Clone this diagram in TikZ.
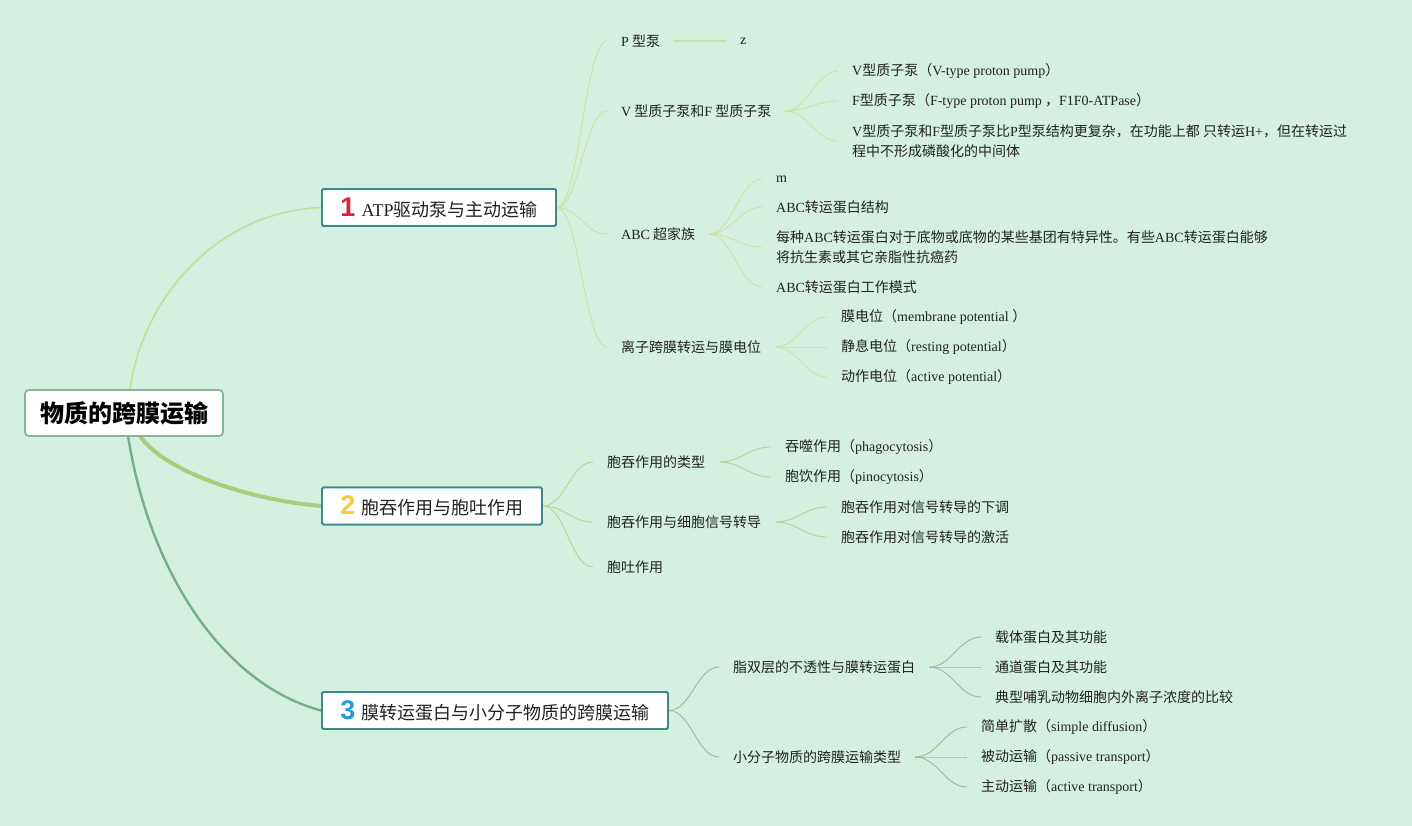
\documentclass[tikz,border=0pt]{standalone}
\usepackage{fontspec}
\setmainfont{Noto Sans CJK SC}
\newfontfamily\lat{Liberation Serif}
\newfontfamily\numfont{Liberation Sans}
\newcommand\E[1]{{\lat #1}}
\usetikzlibrary{calc}
\definecolor{bg}{HTML}{D4F0E1}
\definecolor{txt}{HTML}{222222}
\definecolor{rootborder}{HTML}{86B595}
\definecolor{boxborder}{HTML}{3C8A88}
\definecolor{cA}{HTML}{C9E4A2}
\definecolor{cArt}{HTML}{BEE29A}
\definecolor{cB}{HTML}{A9CC7E}
\definecolor{cBl}{HTML}{B8D68E}
\definecolor{cC}{HTML}{76AE88}
\definecolor{cCl}{HTML}{93BFA0}
\definecolor{numA}{HTML}{E0203A}
\definecolor{numB}{HTML}{F2CF3C}
\definecolor{numC}{HTML}{2A9BD8}
\newcommand\numA{{\numfont\bfseries\fontsize{27}{27}\selectfont\color{numA}1}}
\newcommand\numB{{\numfont\bfseries\fontsize{27}{27}\selectfont\color{numB}2}}
\newcommand\numC{{\numfont\bfseries\fontsize{27}{27}\selectfont\color{numC}3}}
\tikzset{
  rootbox/.style={draw=rootborder, line width=1.6pt, fill=white, rounded corners=4pt,
    minimum width=198pt, minimum height=46pt, inner sep=0pt, text=black,
    font=\fontsize{24}{28}\selectfont\bfseries},
  mainbox/.style={draw=boxborder, line width=1.8pt, fill=white, rounded corners=1.5pt,
    minimum height=37pt, inner sep=0pt, text=txt, font=\fontsize{18}{22}\selectfont},
  leaf/.style={anchor=west, inner xsep=14pt, inner ysep=2pt, align=left, text=txt,
    font=\fontsize{14}{20}\selectfont},
  edgeA/.style={draw=cA, line width=0.9pt},
  edgeB/.style={draw=cBl, line width=0.9pt},
  edgeC/.style={draw=cCl, line width=0.9pt},
  curve/.style={to path={.. controls ($(\tikztostart)+(22,0)$) and ($(\tikztotarget)+(-22,0)$) .. (\tikztotarget)}}
}
\begin{document}
\begin{tikzpicture}[x=1pt, y=-1pt]
\fill[bg] (0,0) rectangle (1412,826);
\useasboundingbox (0,0) rectangle (1412,826);

\coordinate (r1) at (130,390);
\coordinate (r2) at (140,436);
\coordinate (r3) at (128,436);

\node[rootbox] (root) at (124,413) {物质的跨膜运输};
\node[mainbox, minimum width=234pt] (b1) at (439,207.5) {\numA\hspace{6pt}\E{ATP}驱动泵与主动运输};
\node[mainbox, minimum width=220pt] (b2) at (432,506) {\numB\hspace{6pt}胞吞作用与胞吐作用};
\node[mainbox, minimum width=346pt] (b3) at (495,710.5) {\numC\hspace{6pt}膜转运蛋白与小分子物质的跨膜运输};

% branch 1 children
\node[leaf] (p) at (607,41) {\E{P} 型泵};
\node[leaf] (z) at (726,41) {\E{z}};
\node[leaf] (vf) at (607,111) {\E{V} 型质子泵和\E{F} 型质子泵};
\node[leaf] (abc) at (607,234) {\E{ABC} 超家族};
\node[leaf] (ion) at (607,347) {离子跨膜转运与膜电位};

\node[leaf] (vf1) at (838,71) {\E{V}型质子泵（\E{V-type proton pump}）};
\node[leaf] (vf2) at (838,101) {\E{F}型质子泵（\E{F-type proton pump} ，\E{F1F0-ATPase}）};
\node[leaf] (vf3) at (838,141) {\E{V}型质子泵和\E{F}型质子泵比\E{P}型泵结构更复杂，在功能上都 只转运\E{H+}，但在转运过\\程中不形成磷酸化的中间体};

\node[leaf] (abc1) at (762,179) {\E{m}};
\node[leaf] (abc2) at (762,207) {\E{ABC}转运蛋白结构};
\node[leaf] (abc3) at (762,247) {每种\E{ABC}转运蛋白对于底物或底物的某些基团有特异性。有些\E{ABC}转运蛋白能够\\将抗生素或其它亲脂性抗癌药};
\node[leaf] (abc4) at (762,287) {\E{ABC}转运蛋白工作模式};

\node[leaf] (ion1) at (827,317) {膜电位（\E{membrane potential }）};
\node[leaf] (ion2) at (827,347) {静息电位（\E{resting potential}）};
\node[leaf] (ion3) at (827,377) {动作电位（\E{active potential}）};

% branch 2 children
\node[leaf] (en) at (593,462) {胞吞作用的类型};
\node[leaf] (sig) at (593,522) {胞吞作用与细胞信号转导};
\node[leaf] (ex) at (593,567) {胞吐作用};

\node[leaf] (en1) at (771,447) {吞噬作用（\E{phagocytosis}）};
\node[leaf] (en2) at (771,477) {胞饮作用（\E{pinocytosis}）};
\node[leaf] (sig1) at (827,507) {胞吞作用对信号转导的下调};
\node[leaf] (sig2) at (827,537) {胞吞作用对信号转导的激活};

% branch 3 children
\node[leaf] (lip) at (719,667) {脂双层的不透性与膜转运蛋白};
\node[leaf] (sm) at (719,757) {小分子物质的跨膜运输类型};

\node[leaf] (lip1) at (981,637) {载体蛋白及其功能};
\node[leaf] (lip2) at (981,667) {通道蛋白及其功能};
\node[leaf] (lip3) at (981,697) {典型哺乳动物细胞内外离子浓度的比较};

\node[leaf] (sm1) at (967,727) {简单扩散（\E{simple diffusion}）};
\node[leaf] (sm2) at (967,757) {被动运输（\E{passive transport}）};
\node[leaf] (sm3) at (967,787) {主动运输（\E{active transport}）};

% root connectors
\draw[draw=cArt, line width=1.6pt] (r1) .. controls (142,300) and (215,212) .. (b1.west);
\draw[draw=cB, line width=4pt] (r2) .. controls (165,472) and (250,500) .. (b2.west);
\draw[draw=cC, line width=2.4pt] (r3) .. controls (150,575) and (225,685) .. (b3.west);

% branch 1 edges
\foreach \c in {p,vf,abc,ion} \draw[edgeA] (b1.east) to[curve] (\c.west);
\draw[edgeA, line width=1.4pt] (p.east) -- (z.west);
\foreach \c in {vf1,vf2,vf3} \draw[edgeA] (vf.east) to[curve] (\c.west);
\foreach \c in {abc1,abc2,abc3,abc4} \draw[edgeA] (abc.east) to[curve] (\c.west);
\foreach \c in {ion1,ion2,ion3} \draw[edgeA] (ion.east) to[curve] (\c.west);

% branch 2 edges
\foreach \c in {en,sig,ex} \draw[edgeB] (b2.east) to[curve] (\c.west);
\foreach \c in {en1,en2} \draw[edgeB] (en.east) to[curve] (\c.west);
\foreach \c in {sig1,sig2} \draw[edgeB] (sig.east) to[curve] (\c.west);

% branch 3 edges
\foreach \c in {lip,sm} \draw[edgeC] (b3.east) to[curve] (\c.west);
\foreach \c in {lip1,lip2,lip3} \draw[edgeC] (lip.east) to[curve] (\c.west);
\foreach \c in {sm1,sm2,sm3} \draw[edgeC] (sm.east) to[curve] (\c.west);

% boxes on top of root connectors
\node[rootbox] at (root) {物质的跨膜运输};
\node[mainbox, minimum width=234pt] at (b1) {\numA\hspace{6pt}\E{ATP}驱动泵与主动运输};
\node[mainbox, minimum width=220pt] at (b2) {\numB\hspace{6pt}胞吞作用与胞吐作用};
\node[mainbox, minimum width=346pt] at (b3) {\numC\hspace{6pt}膜转运蛋白与小分子物质的跨膜运输};
\end{tikzpicture}
\end{document}
